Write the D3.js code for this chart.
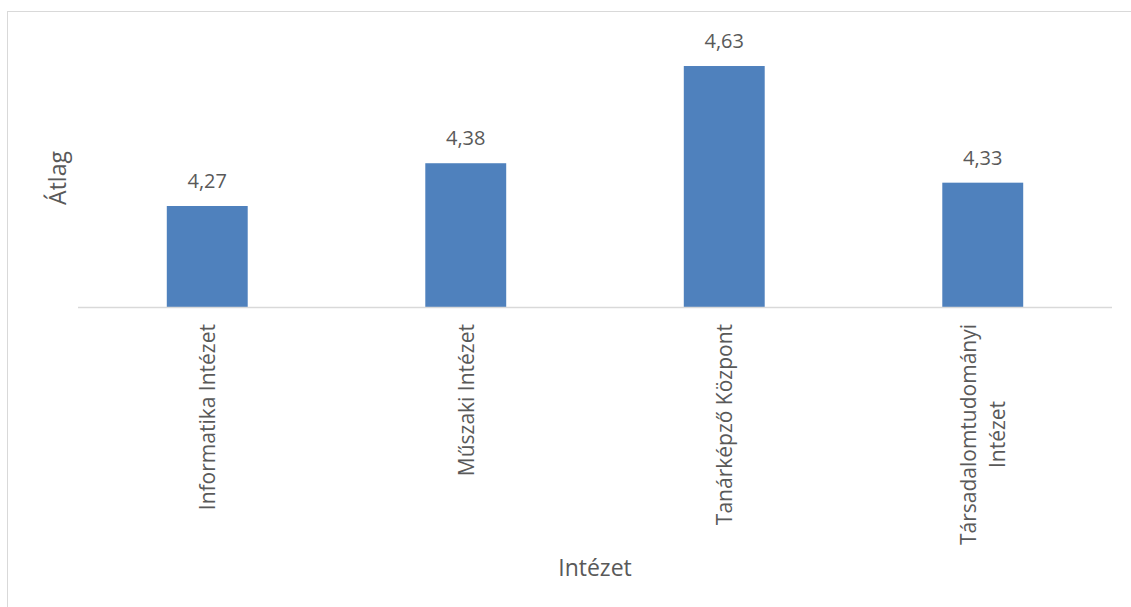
<!DOCTYPE html>
<html>
  <head>
    <meta charset="utf-8" />
    <script src="https://d3js.org/d3.v7.min.js"></script>
    <style>
      body { margin: 0; background: #fff; }
      text { font-family: "Open Sans", sans-serif; fill: #595959; }
    </style>
  </head>
  <body>
    <svg id="chart"></svg>
    <script>
      // Data
      var categories = [
        ["Informatika Intézet"],
        ["Műszaki Intézet"],
        ["Tanárképző Központ"],
        ["Társadalomtudományi", "Intézet"]
      ];
      var values = [4.27, 4.38, 4.63, 4.33];
      var yTitle = "Átlag";
      var xTitle = "Intézet";

      var width = 1131, height = 607;
      var svg = d3.select("#chart").attr("width", width).attr("height", height);

      // chart border (runs off right and bottom edges)
      svg.append("rect")
        .attr("x", 7.5).attr("y", 11.5)
        .attr("width", 1140).attr("height", 620)
        .attr("fill", "none").attr("stroke", "#d9d9d9");

      var x = d3.scaleBand()
        .domain(d3.range(values.length))
        .range([78, 1112])
        .paddingInner(0.687)
        .paddingOuter(0.3435);

      var y = d3.scaleLinear().domain([4, 4.7]).range([311, 38.8]);
      var base = 307;

      var fmt = d3.formatLocale({ decimal: ",", thousands: " ", grouping: [3], currency: ["", ""] }).format(".2f");

      // bars
      svg.append("g")
        .selectAll("rect")
        .data(values)
        .join("rect")
        .attr("x", (d, i) => x(i))
        .attr("y", d => y(d))
        .attr("width", x.bandwidth())
        .attr("height", d => base - y(d))
        .attr("fill", "#4f81bd");

      // baseline
      svg.append("line")
        .attr("x1", 78).attr("x2", 1112)
        .attr("y1", base + 0.5).attr("y2", base + 0.5)
        .attr("stroke", "#d9d9d9").attr("stroke-width", 1.5);

      // value labels
      svg.append("g")
        .selectAll("text")
        .data(values)
        .join("text")
        .attr("x", (d, i) => x(i) + x.bandwidth() / 2)
        .attr("y", d => y(d) - 18)
        .attr("text-anchor", "middle")
        .style("font-size", "20px")
        .text(d => fmt(d));

      // category labels, rotated
      var lineGap = 29;
      var cat = svg.append("g")
        .selectAll("text")
        .data(categories)
        .join("text")
        .attr("text-anchor", "middle")
        .style("font-size", "21px")
        .attr("transform", (d, i) => {
          var cx = x(i) + x.bandwidth() / 2;
          return "translate(" + cx + ",0) rotate(-90)";
        });

      cat.each(function (lines) {
        var t = d3.select(this);
        var n = lines.length;
        lines.forEach((s, k) => {
          t.append("tspan")
            .attr("x", 0)
            .attr("y", (k - (n - 1) / 2) * lineGap + 8)
            .text(s);
        });
        // block end sits just under the axis line
        var w = d3.max(t.selectAll("tspan").nodes(), nd => nd.getComputedTextLength());
        t.selectAll("tspan").attr("x", -(324 + w / 2));
      });

      // axis titles
      svg.append("text")
        .attr("transform", "translate(66,178) rotate(-90)")
        .attr("text-anchor", "middle")
        .style("font-size", "23px")
        .text(yTitle);

      svg.append("text")
        .attr("x", 595)
        .attr("y", 576)
        .attr("text-anchor", "middle")
        .style("font-size", "23px")
        .text(xTitle);
    </script>
  </body>
</html>
